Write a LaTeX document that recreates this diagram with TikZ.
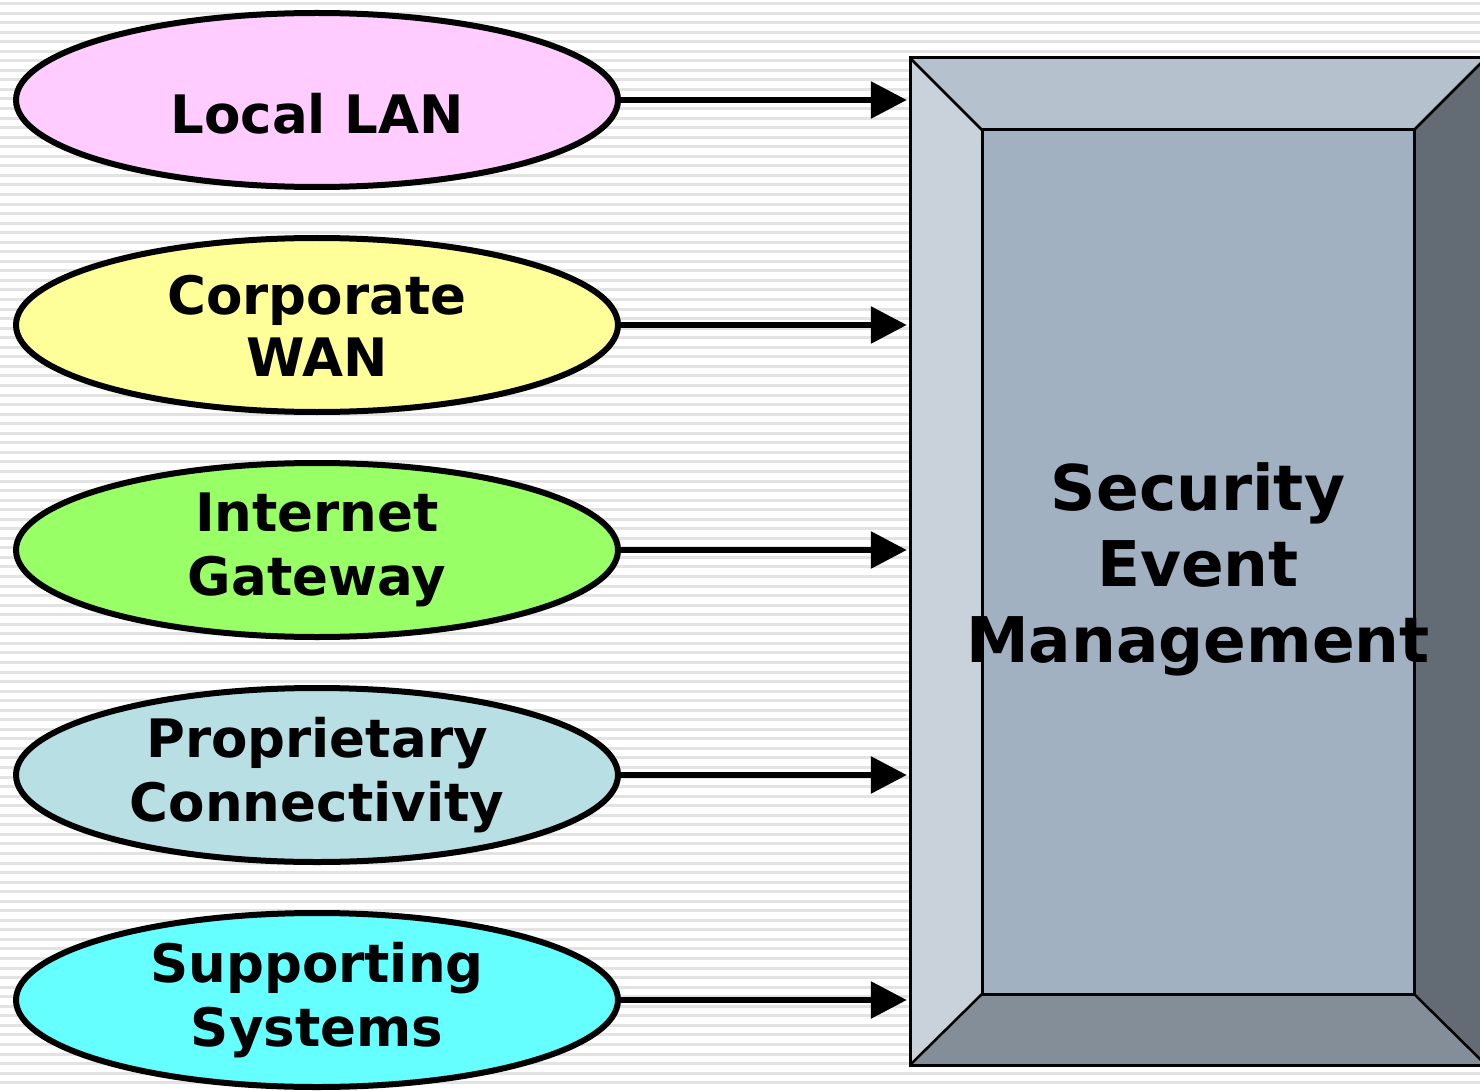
\documentclass[tikz,border=0pt]{standalone}
\usepackage{fontspec}
\setmainfont{DejaVu Sans}
\usetikzlibrary{positioning,shapes.geometric,arrows.meta}

\definecolor{lanpink}{RGB}{255,204,255}
\definecolor{wanyellow}{RGB}{255,255,153}
\definecolor{gwgreen}{RGB}{153,255,102}
\definecolor{propblue}{RGB}{184,223,227}
\definecolor{supcyan}{RGB}{102,255,255}
\definecolor{bevtop}{RGB}{181,193,205}
\definecolor{bevleft}{RGB}{201,209,219}
\definecolor{bevface}{RGB}{162,177,193}
\definecolor{bevright}{RGB}{99,107,117}
\definecolor{bevbottom}{RGB}{131,142,153}

\begin{document}
\begin{tikzpicture}[x=1pt,y=-1pt,>={Triangle[length=36pt,width=36pt]},line join=miter,
  src/.style={ellipse,draw=black,line width=6pt,inner sep=0pt,minimum width=602pt,minimum height=174pt,
    align=center,font=\fontsize{53}{64}\selectfont\bfseries},
  feed/.style={->,line width=6pt,shorten >=3pt}]
\useasboundingbox (0,0) rectangle (1480,1091);
%% striped background
\fill[white] (0,0) rectangle (1480,1091);
\foreach \k in {0,...,114}
  \fill[black!11] (0,{\k*9.55+2}) rectangle (1480,{\k*9.55+5});
%% sources
\node (lan) at (317,100) [src,fill=lanpink] {\raisebox{-14pt}[\height][\depth]{Local LAN}};
\node (wan) at (317,325) [src,fill=wanyellow] {\raisebox{-2pt}[\height][\depth]{Corporate}\\WAN};
\node (gw) at (317,550) [src,fill=gwgreen] {Internet\\Gateway};
\node (prop) at (317,775) [src,fill=propblue] {Proprietary\\Connectivity};
\node (sup) at (317,1000) [src,fill=supcyan] {Supporting\\Systems};
%% bevelled box
\coordinate (oA) at (910,58);  \coordinate (oB) at (1486,58);
\coordinate (oC) at (1486,1065); \coordinate (oD) at (910,1065);
\coordinate (iA) at (982,130);  \coordinate (iB) at (1414,130);
\coordinate (iC) at (1414,994); \coordinate (iD) at (982,994);
\fill[bevtop] (oA) -- (oB) -- (iB) -- (iA) -- cycle;
\fill[bevright] (oB) -- (oC) -- (iC) -- (iB) -- cycle;
\fill[bevbottom] (oD) -- (oC) -- (iC) -- (iD) -- cycle;
\fill[bevleft] (oA) -- (oD) -- (iD) -- (iA) -- cycle;
\fill[bevface] (iA) rectangle (iC);
\draw[line width=3pt] (oA) rectangle (oC) (iA) rectangle (iC);
\draw[line width=2.5pt] (oA) -- (iA) (oB) -- (iB) (oC) -- (iC) (oD) -- (iD);
\node (sem) at (1198,561.5) [minimum width=576pt,minimum height=1007pt,inner sep=0pt] {};
\node (semtext) at (1198,569) [align=center,font=\fontsize{63}{76}\selectfont\bfseries] {Security\\Event\\Management};
%% connectors
\draw[feed] (lan.east) -- (lan.east -| sem.west);
\draw[feed] (wan.east) -- (wan.east -| sem.west);
\draw[feed] (gw.east) -- (gw.east -| sem.west);
\draw[feed] (prop.east) -- (prop.east -| sem.west);
\draw[feed] (sup.east) -- (sup.east -| sem.west);
\end{tikzpicture}
\end{document}
